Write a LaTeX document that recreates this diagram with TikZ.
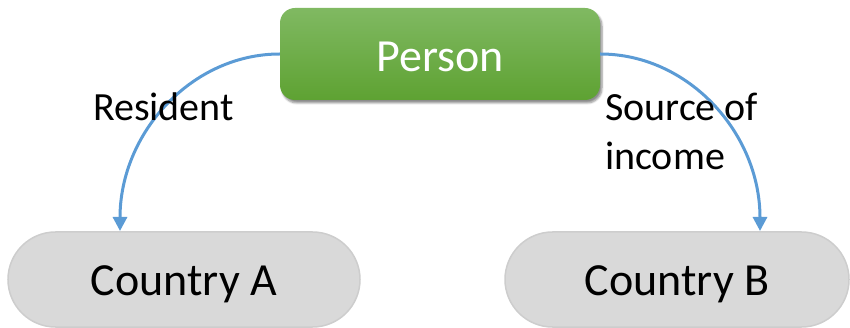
\documentclass[tikz,border=0pt]{standalone}
\usepackage{fontspec}
\setmainfont{Carlito}
\usetikzlibrary{arrows.meta,shapes.misc,shadows.blur}
\definecolor{gtop}{HTML}{80B962}
\definecolor{gbot}{HTML}{5EA232}
\definecolor{boxgray}{HTML}{D9D9D9}
\definecolor{boxedge}{HTML}{CDCDCD}
\definecolor{arrowblue}{HTML}{5B9BD5}
\tikzset{
  personbox/.style={rectangle, rounded corners=15pt, minimum width=320pt, minimum height=92pt,
    top color=gtop, bottom color=gbot, draw=none, text=white, inner sep=0pt,
    text height=36pt, text depth=0pt,
    font=\fontsize{46}{55}\selectfont,
    blur shadow={shadow xshift=2pt, shadow yshift=-3pt, shadow blur steps=6, shadow opacity=45}},
  countrybox/.style={rounded rectangle, minimum height=95pt, inner sep=0pt,
    fill=boxgray, draw=boxedge, line width=1.5pt, text=black,
    text height=31pt, text depth=0pt,
    font=\fontsize{46}{55}\selectfont},
  lbl/.style={text=black, inner sep=0pt, font=\fontsize{40}{49}\selectfont},
  flow/.style={draw=arrowblue, line width=3pt, -{Triangle[length=14pt,width=14pt]}}
}
\begin{document}
\begin{tikzpicture}[x=1pt,y=-1pt]
\useasboundingbox (0,0) rectangle (850,328);
\node[personbox] (person) at (440,54) {Person};
\node[countrybox, minimum width=352pt] (ca) at (184,279.5) {Country A};
\node[countrybox, minimum width=344pt] (cb) at (677,279.5) {Country B};
\coordinate (ta) at (120,231);
\coordinate (tb) at (760,231);
\draw[flow] (person.west) .. controls (191.6,54) and (120,133) .. (ta);
\draw[flow] (person.east) .. controls (688.4,54) and (760,133) .. (tb);
\node[lbl, anchor=base west] (resident) at (93,121) {Resident};
\node[lbl, anchor=base west, align=left] (source) at (605,170) {Source of\\income};
\end{tikzpicture}
\end{document}
